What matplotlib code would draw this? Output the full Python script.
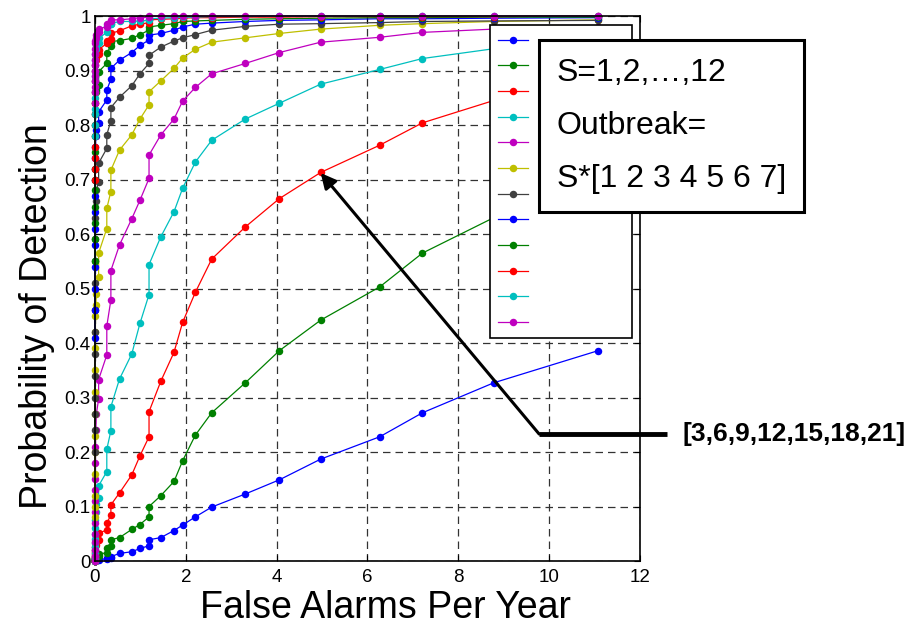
# roc_curves.py
# Probability of detection vs false alarms per year for outbreak sizes S=1..12

import matplotlib
matplotlib.use("Agg")
import matplotlib.pyplot as plt

plt.rcParams['font.family'] = ['Liberation Sans', 'DejaVu Sans']

# False alarm rate for each threshold (shared by all curves)
fa_rate = [0, 0, 0, 0, 0, 0, 0, 0, 0, 0, 0.01, 0.01, 0.02, 0.03,
           0.08, 0.08, 0.26, 0.26, 0.35, 0.35, 0.54, 0.81, 0.99, 1.19, 1.19,
           1.45, 1.74, 1.93, 2.21, 2.57, 3.31, 4.06, 4.97, 6.27, 7.21, 8.78, 11.08]

# Probability of detection, one list per outbreak scale S
pd_s1 = [0, 0, 0, 0, 0, 0, 0, 0, 0.001, 0.001, 0.001, 0.002, 0.002, 0.002,
         0.002, 0.003, 0.004, 0.005, 0.006, 0.008, 0.014, 0.017, 0.023, 0.028, 0.039,
         0.043, 0.056, 0.066, 0.081, 0.099, 0.123, 0.149, 0.187, 0.228, 0.272, 0.327, 0.386]
pd_s2 = [0, 0, 0, 0, 0, 0, 0.001, 0.002, 0.003, 0.004, 0.005, 0.006, 0.008, 0.009,
         0.010, 0.013, 0.015, 0.023, 0.028, 0.039, 0.043, 0.058, 0.067, 0.081, 0.100,
         0.120, 0.146, 0.184, 0.231, 0.272, 0.327, 0.386, 0.442, 0.503, 0.565, 0.630, 0.700]
pd_s3 = [0, 0, 0, 0.002, 0.004, 0.006, 0.008, 0.010, 0.013, 0.016, 0.020, 0.025, 0.030, 0.035,
         0.039, 0.051, 0.057, 0.070, 0.084, 0.103, 0.125, 0.158, 0.193, 0.228, 0.274,
         0.330, 0.383, 0.438, 0.493, 0.554, 0.613, 0.665, 0.713, 0.763, 0.804, 0.845, 0.890]
pd_s4 = [0, 0.003, 0.006, 0.010, 0.014, 0.020, 0.026, 0.033, 0.040, 0.050, 0.060, 0.075, 0.090, 0.105,
         0.115, 0.138, 0.164, 0.205, 0.239, 0.283, 0.334, 0.380, 0.436, 0.489, 0.544,
         0.595, 0.641, 0.684, 0.732, 0.772, 0.811, 0.840, 0.875, 0.902, 0.922, 0.940, 0.960]
pd_s5 = [0, 0.010, 0.020, 0.035, 0.050, 0.070, 0.090, 0.110, 0.130, 0.150, 0.180, 0.210, 0.240, 0.270,
         0.297, 0.333, 0.378, 0.431, 0.479, 0.533, 0.580, 0.628, 0.662, 0.702, 0.745,
         0.782, 0.811, 0.844, 0.869, 0.894, 0.913, 0.933, 0.952, 0.961, 0.970, 0.976, 0.980]
pd_s6 = [0.080, 0.100, 0.120, 0.160, 0.200, 0.230, 0.270, 0.310, 0.350, 0.390, 0.420, 0.450, 0.470, 0.490,
         0.522, 0.565, 0.610, 0.647, 0.678, 0.717, 0.754, 0.782, 0.811, 0.837, 0.861,
         0.881, 0.904, 0.923, 0.939, 0.952, 0.960, 0.968, 0.976, 0.983, 0.986, 0.990, 0.993]
pd_s7 = [0.200, 0.240, 0.270, 0.300, 0.340, 0.380, 0.420, 0.460, 0.510, 0.550, 0.590, 0.630, 0.660, 0.680,
         0.696, 0.730, 0.757, 0.782, 0.808, 0.832, 0.851, 0.872, 0.894, 0.913, 0.928,
         0.943, 0.954, 0.960, 0.966, 0.974, 0.981, 0.985, 0.986, 0.988, 0.990, 0.991, 0.992]
pd_s8 = [0.410, 0.460, 0.500, 0.540, 0.580, 0.610, 0.640, 0.670, 0.700, 0.720, 0.740, 0.760, 0.780, 0.790,
         0.803, 0.824, 0.846, 0.864, 0.884, 0.904, 0.919, 0.933, 0.946, 0.956, 0.965,
         0.968, 0.974, 0.980, 0.985, 0.987, 0.990, 0.992, 0.993, 0.995, 0.995, 0.996, 0.997]
pd_s9 = [0.550, 0.590, 0.620, 0.650, 0.680, 0.700, 0.720, 0.750, 0.780, 0.800, 0.820, 0.840, 0.860, 0.865,
         0.873, 0.898, 0.913, 0.932, 0.945, 0.953, 0.955, 0.959, 0.966, 0.974, 0.980,
         0.983, 0.986, 0.990, 0.991, 0.992, 0.994, 0.995, 0.996, 0.997, 0.997, 0.998, 0.998]
pd_s10 = [0.700, 0.720, 0.740, 0.760, 0.780, 0.800, 0.820, 0.840, 0.860, 0.880, 0.900, 0.910, 0.920, 0.925,
          0.930, 0.938, 0.950, 0.955, 0.957, 0.968, 0.973, 0.982, 0.985, 0.988, 0.993,
          0.994, 0.995, 0.996, 0.997, 0.997, 0.998, 0.998, 0.999, 0.999, 0.999, 0.999, 1.000]
pd_s11 = [0.780, 0.800, 0.820, 0.830, 0.850, 0.860, 0.880, 0.890, 0.900, 0.910, 0.920, 0.930, 0.940, 0.945,
          0.950, 0.959, 0.970, 0.981, 0.985, 0.986, 0.990, 0.990, 0.991, 0.992, 0.995,
          0.996, 0.997, 0.998, 0.998, 0.999, 0.999, 1.000, 1.000, 1.000, 1.000, 1.000, 1.000]
pd_s12 = [0.840, 0.860, 0.870, 0.880, 0.890, 0.900, 0.910, 0.920, 0.930, 0.940, 0.950, 0.955, 0.960, 0.965,
          0.970, 0.977, 0.980, 0.985, 0.990, 0.993, 0.993, 0.995, 0.997, 0.998, 1.000,
          1.000, 1.000, 1.000, 1.000, 1.000, 1.000, 1.000, 1.000, 1.000, 1.000, 1.000, 1.000]

all_curves = [pd_s1, pd_s2, pd_s3, pd_s4, pd_s5, pd_s6,
              pd_s7, pd_s8, pd_s9, pd_s10, pd_s11, pd_s12]

# Old MATLAB colour order, cycling after seven
matlab_colors = [(0, 0, 1), (0, 0.5, 0), (1, 0, 0), (0, 0.75, 0.75),
                 (0.75, 0, 0.75), (0.75, 0.75, 0), (0.25, 0.25, 0.25)]

x_ticks = [0, 2, 4, 6, 8, 10, 12]
y_ticks = [0, 0.1, 0.2, 0.3, 0.4, 0.5, 0.6, 0.7, 0.8, 0.9, 1]
y_tick_labels = ["0", "0.1", "0.2", "0.3", "0.4", "0.5", "0.6", "0.7", "0.8", "0.9", "1"]


def main():
    fig = plt.figure(figsize=(9.24, 6.26), dpi=100)
    ax = fig.add_axes([0.1028, 0.1038, 0.5898, 0.8706])

    handles = []
    for i, pd in enumerate(all_curves):
        color = matlab_colors[i % len(matlab_colors)]
        line, = ax.plot(fa_rate, pd, color=color, lw=0.9, marker="o",
                        markersize=5.4, markeredgewidth=0, clip_on=False)
        handles.append(line)

    ax.set_xlim(0, 12)
    ax.set_ylim(0, 1)
    ax.set_xticks(x_ticks)
    ax.set_yticks(y_ticks)
    ax.set_yticklabels(y_tick_labels)
    ax.tick_params(direction="in", length=4, labelsize=13.5, top=True, right=True)
    ax.tick_params(axis="x", pad=6)
    ax.tick_params(axis="y", pad=3)
    ax.grid(True, color="0.2", linestyle=(0, (6, 4)), linewidth=0.9)
    ax.set_axisbelow(True)
    for spine in ax.spines.values():
        spine.set_linewidth(1.2)

    ax.set_xlabel("False Alarms Per Year", fontsize=27)
    ax.set_ylabel("Probability of Detection", fontsize=27)
    ax.xaxis.set_label_coords(0.533, -0.053)
    ax.yaxis.set_label_coords(-0.073, 0.45)

    # Legend with the coloured markers only
    leg = ax.legend(handles, [""] * len(handles),
                    loc="upper left", bbox_to_anchor=(0.725, 0.3, 0.26, 0.683),
                    mode="expand", borderaxespad=0, fontsize=10,
                    handlelength=2.1, labelspacing=0.84, borderpad=0.6,
                    fancybox=False, framealpha=1, edgecolor="black")
    leg.get_frame().set_linewidth(1.2)

    # Text box describing the runs
    fig.text(557 / 924, 1 - 58 / 626, "S=1,2,\u2026,12\nOutbreak=\nS*[1 2 3 4 5 6 7]",
             fontsize=23, va="top", ha="left", linespacing=2.0,
             bbox=dict(boxstyle="square,pad=0.55", fc="white", ec="black", lw=2.2),
             zorder=10)

    # Arrow pointing to the red curve
    ax.plot([9.78, 12.6], [0.233, 0.233], color="black", lw=3.5,
            clip_on=False, solid_capstyle="butt")
    ax.annotate("", xy=(4.97, 0.712), xytext=(9.78, 0.233),
                arrowprops=dict(arrowstyle="-|>,head_length=0.9,head_width=0.45",
                                color="black", lw=2.2, shrinkA=0, shrinkB=0),
                annotation_clip=False)
    fig.text(683 / 924, 1 - 434 / 626, "[3,6,9,12,15,18,21]", fontsize=19,
             fontweight="bold", va="center", ha="left")

    fig.savefig("out.png", dpi=100)
    plt.close(fig)


if __name__ == "__main__":
    main()
